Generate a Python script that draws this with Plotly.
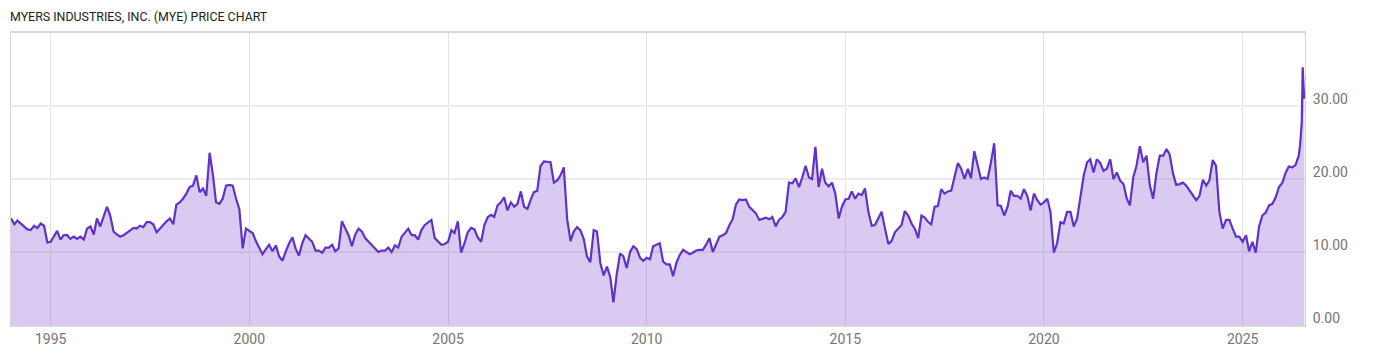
import pandas as pd
import plotly.graph_objects as go

title_text = "MYERS INDUSTRIES, INC. (MYE) PRICE CHART"

# Monthly closing prices (first of month)
p1994 = [14.6, 13.8, 14.3, 13.9, 13.6, 13.1, 13.0, 13.6, 13.3, 13.9, 13.6, 11.3]
p1995 = [11.4, 12.1, 12.9, 11.7, 12.3, 12.3, 11.8, 12.1, 11.8, 12.1, 11.7, 13.2]
p1996 = [13.5, 12.4, 14.6, 13.5, 15.0, 16.2, 15.0, 12.8, 12.4, 12.1, 12.3, 12.6]
p1997 = [13.0, 13.3, 13.2, 13.6, 13.4, 14.1, 14.1, 13.8, 12.7, 13.2, 13.8, 14.2]
p1998 = [14.6, 13.8, 16.5, 16.8, 17.3, 18.0, 18.9, 19.1, 20.5, 18.2, 18.7, 17.7]
p1999 = [23.6, 20.5, 16.8, 16.6, 17.3, 19.1, 19.2, 19.1, 17.3, 15.9, 10.5, 13.2]
p2000 = [12.9, 12.6, 11.5, 10.5, 9.7, 10.4, 11.0, 10.1, 10.9, 9.4, 8.8, 10.1]
p2001 = [11.2, 12.0, 10.5, 9.5, 11.2, 12.3, 11.9, 11.4, 10.2, 10.2, 9.9, 10.6]
p2002 = [10.6, 11.0, 10.1, 10.5, 14.2, 13.2, 12.3, 10.8, 12.4, 13.2, 12.8, 11.9]
p2003 = [11.4, 10.8, 10.5, 10.0, 10.2, 10.2, 10.6, 10.0, 10.9, 10.6, 12.1, 12.6]
p2004 = [13.2, 12.3, 12.3, 11.7, 13.0, 13.7, 14.1, 14.4, 11.9, 11.4, 11.0, 11.1]
p2005 = [11.4, 13.0, 12.6, 14.2, 9.9, 11.2, 12.7, 13.3, 13.1, 12.0, 11.4, 13.7]
p2006 = [14.8, 15.1, 14.8, 16.4, 16.8, 17.5, 15.7, 16.8, 16.2, 16.6, 18.3, 16.2]
p2007 = [15.9, 17.2, 18.2, 18.4, 21.8, 22.4, 22.3, 22.3, 19.5, 19.8, 20.5, 21.6]
p2008 = [14.5, 11.5, 12.8, 13.4, 13.0, 11.8, 9.4, 8.6, 13.0, 12.8, 8.5, 6.8]
p2009 = [8.0, 6.5, 3.1, 7.0, 9.8, 9.4, 7.8, 10.0, 10.8, 10.4, 9.2, 8.8]
p2010 = [9.2, 9.0, 10.8, 11.0, 11.2, 8.7, 8.3, 8.3, 6.7, 8.5, 9.6, 10.3]
p2011 = [10.0, 9.7, 9.9, 10.2, 10.3, 10.3, 11.0, 11.9, 10.0, 11.1, 12.1, 12.3]
p2012 = [12.6, 13.7, 14.5, 16.5, 17.2, 17.1, 17.2, 16.2, 15.7, 15.3, 14.4, 14.6]
p2013 = [14.7, 14.5, 14.8, 13.5, 14.4, 14.8, 15.5, 19.5, 19.4, 20.1, 18.9, 20.2]
p2014 = [21.8, 20.2, 20.0, 24.4, 18.9, 21.4, 19.5, 19.0, 19.5, 18.0, 14.6, 16.2]
p2015 = [17.2, 17.3, 18.3, 17.3, 18.0, 17.8, 18.7, 15.5, 13.6, 13.7, 14.7, 15.5]
p2016 = [13.2, 11.1, 11.5, 12.7, 13.2, 13.7, 15.6, 15.0, 13.9, 13.2, 11.9, 15.0]
p2017 = [14.7, 14.1, 13.8, 16.2, 16.3, 18.6, 18.0, 18.3, 18.4, 20.5, 22.2, 21.4]
p2018 = [20.0, 21.4, 20.1, 23.8, 21.8, 20.0, 20.2, 20.0, 22.3, 24.9, 16.4, 16.3]
p2019 = [15.0, 16.2, 18.4, 17.7, 17.7, 17.3, 18.6, 17.7, 15.7, 18.0, 17.1, 16.5]
p2020 = [16.8, 17.3, 15.5, 9.9, 11.2, 14.1, 13.9, 15.5, 15.5, 13.5, 14.6, 17.7]
p2021 = [20.5, 22.3, 22.7, 20.9, 22.7, 22.2, 21.1, 21.4, 22.7, 20.0, 20.9, 19.8]
p2022 = [19.3, 17.3, 16.4, 20.2, 21.8, 24.5, 22.3, 23.2, 19.1, 17.3, 20.9, 23.2]
p2023 = [23.2, 24.1, 23.4, 20.8, 19.2, 19.3, 19.5, 19.1, 18.4, 17.7, 17.1, 17.7]
p2024 = [19.9, 19.1, 19.8, 22.6, 21.8, 15.5, 13.2, 14.4, 14.4, 13.2, 12.1, 12.1]
p2025 = [11.4, 12.3, 10.1, 11.4, 9.9, 13.5, 15.0, 15.4, 16.4, 16.6, 17.5, 18.9]
p2026 = [19.5, 20.9, 21.7, 21.6, 21.9]

# Final weeks (sharp spike), explicit dates
tail_dates = ["2026-06-01", "2026-06-13", "2026-06-28", "2026-07-07", "2026-07-16", "2026-07-22"]
tail_prices = [23.2, 24.7, 27.7, 35.3, 32.2, 31.0]

y_ticks = [0, 10, 20, 30]

yearly = [p1994, p1995, p1996, p1997, p1998, p1999, p2000, p2001, p2002, p2003,
          p2004, p2005, p2006, p2007, p2008, p2009, p2010, p2011, p2012, p2013,
          p2014, p2015, p2016, p2017, p2018, p2019, p2020, p2021, p2022, p2023,
          p2024, p2025, p2026]
monthly = [v for yr in yearly for v in yr]
monthly_dates = pd.date_range("1994-01-01", periods=len(monthly), freq="MS")

dates = list(monthly_dates.strftime("%Y-%m-%d")) + tail_dates
prices = monthly + tail_prices

font_family = "Roboto, 'Open Sans', sans-serif"
tick_color = "#757575"

fig = go.Figure(
    go.Scatter(
        x=dates,
        y=prices,
        mode="lines",
        line=dict(color="#6032c6", width=2.2),
        fill="tozeroy",
        fillcolor="rgba(110,60,200,0.27)",
        hoverinfo="x+y",
    )
)

fig.update_layout(
    width=1400,
    height=357,
    margin=dict(l=10, r=95, t=33, b=30),
    paper_bgcolor="white",
    plot_bgcolor="white",
    showlegend=False,
    title=dict(
        text=title_text,
        x=10 / 1400,
        xanchor="left",
        xref="container",
        y=1 - 16.5 / 357,
        yanchor="middle",
        yref="container",
        font=dict(family=font_family, size=12.4, color="#222222"),
    ),
    xaxis=dict(
        type="date",
        range=["1994-01-01", "2026-07-28"],
        tick0="1995-01-01",
        dtick="M60",
        tickformat="%Y",
        showgrid=True,
        gridcolor="#e2e2e2",
        gridwidth=1,
        showline=True,
        linecolor="#d9d9d9",
        linewidth=2,
        mirror=True,
        ticks="",
        zeroline=False,
        tickfont=dict(family=font_family, size=14, color=tick_color),
    ),
    yaxis=dict(
        side="right",
        range=[0, 40],
        tickmode="array",
        tickvals=y_ticks,
        tickformat=".2f",
        showgrid=True,
        gridcolor="#ececec",
        gridwidth=2,
        showline=True,
        linecolor="#d4d4d4",
        linewidth=1,
        mirror=True,
        ticks="",
        zeroline=False,
        ticklabelshift=-7,
        ticklabelstandoff=4,
        tickfont=dict(family=font_family, size=14, color=tick_color),
    ),
)

fig.write_html("out.html", config={"displayModeBar": False})
